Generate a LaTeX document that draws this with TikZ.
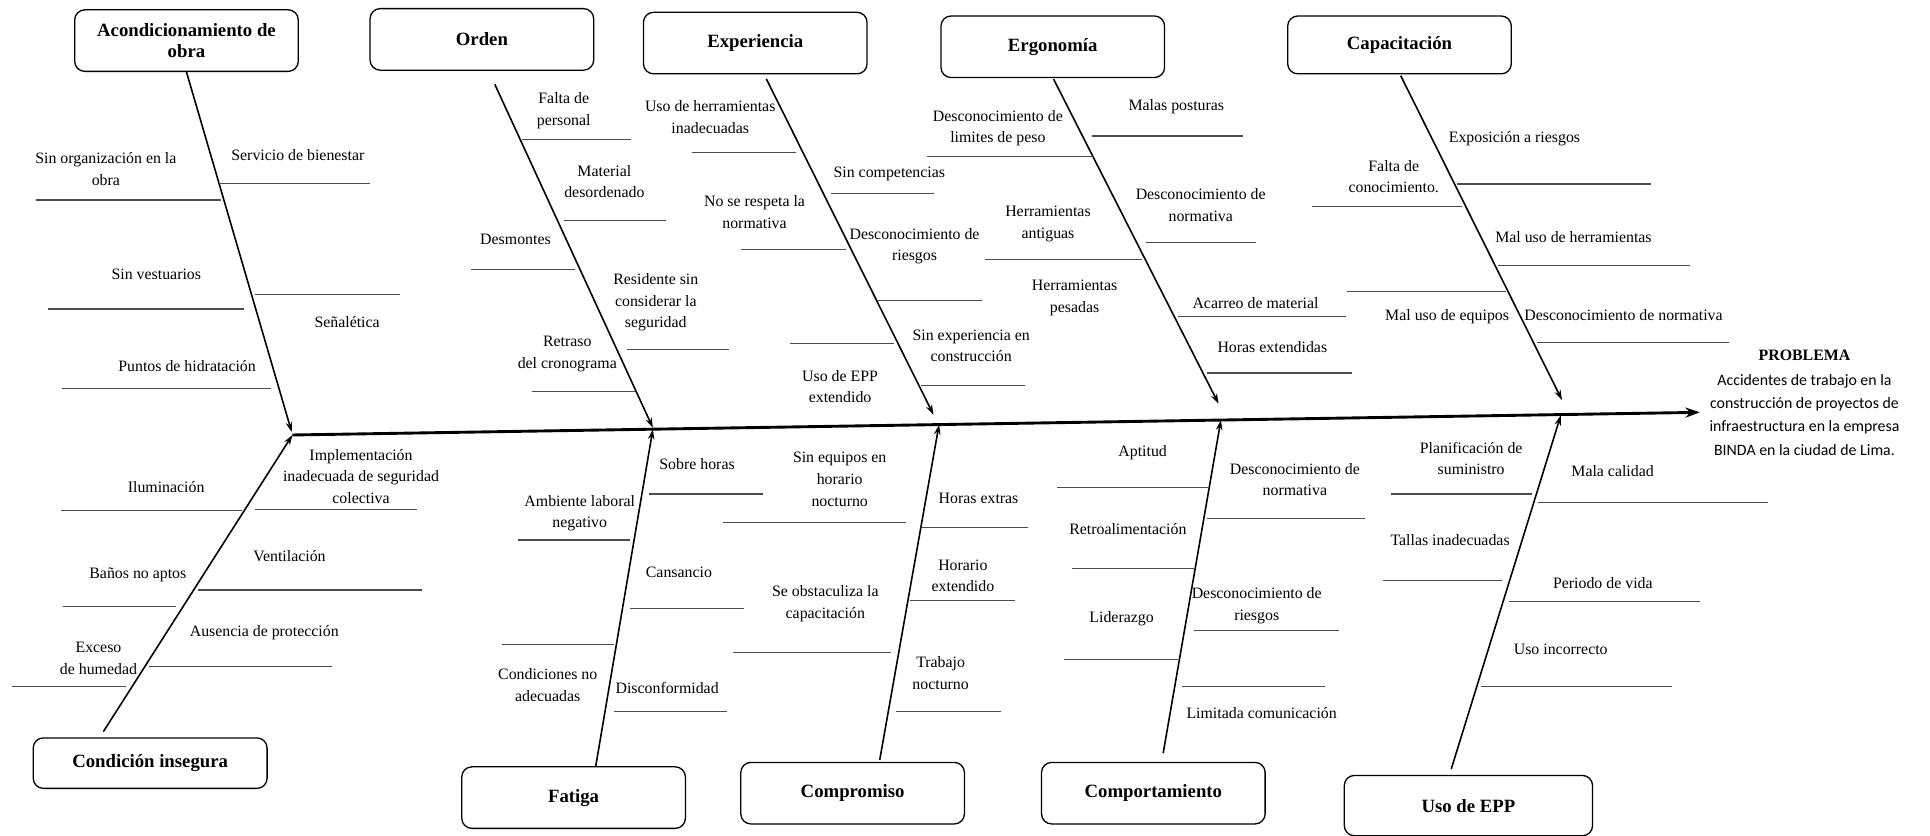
\documentclass[tikz,border=0pt]{standalone}
\usepackage{fontspec}
\setmainfont{Liberation Serif}
\newfontfamily\calibri{Carlito}
\usepackage{tikz}
\usetikzlibrary{calc,positioning,arrows.meta}

\begin{document}
\begin{tikzpicture}[x=0.03cm, y=-0.03cm,
    catbox/.style={draw, rounded corners=7pt, line width=0.9pt, minimum width=5.45cm, minimum height=1.5cm, align=center, font=\fontsize{13}{15}\selectfont\bfseries},
    lbl/.style={align=center, inner sep=1pt, font=\fontsize{11}{15}\selectfont},
    rib/.style={draw=black!70, line width=0.8pt},
    bone/.style={line width=1.1pt, -{Stealth[length=7pt, width=4.5pt]}},
    spine/.style={line width=2pt, -{Stealth[length=10pt, width=7pt]}}]
        \useasboundingbox (0,0) rectangle (1568,679);

        % category boxes
        \node [catbox] (acond) at (151.5,33) {Acondicionamiento de\\obra};
        \node [catbox] (orden) at (391.5,32) {Orden};
        \node [catbox] (exper) at (613.6,35) {Experiencia};
        \node [catbox] (ergo) at (855.3,38) {Ergonomía};
        \node [catbox, minimum height=1.41cm] (capac) at (1137,36.5) {Capacitación};
        \node [catbox, minimum width=5.7cm, minimum height=1.23cm] (insegura) at (122,620) {Condición insegura};
        \node [catbox] (fatiga) at (466,648) {Fatiga};
        \node [catbox] (compro) at (692.7,644.4) {Compromiso};
        \node [catbox] (comport) at (937,644.4) {Comportamiento};
        \node [catbox, minimum width=6.05cm, minimum height=1.47cm] (epp) at (1193,654.5) {Uso de EPP};

        % problem
        \node [font=\fontsize{11}{13}\selectfont\bfseries] (problema) at (1466,289) {PROBLEMA};
        \node [align=center, inner sep=0pt, font=\calibri\fontsize{11}{16.2}\selectfont] (accidentes) at (1466,337) {Accidentes de trabajo en la\\construcción de proyectos de\\infraestructura en la empresa\\BINDA en la ciudad de Lima.};

        % spine
        \coordinate (spL) at (237.6,353.4);
        \coordinate (spR) at (1381,335);
        \draw [spine] (spL) -- (spR);

        % bones
        \coordinate (j1) at (237,351);
        \coordinate (j2) at (530.4,347.5);
        \coordinate (j3) at (758.4,337);
        \coordinate (j4) at (990,328);
        \coordinate (j5) at (1269,325);
        \draw [bone] (acond.south) -- (j1);
        \draw [bone] ($(orden.south)+(10.5,11)$) -- (j2);
        \draw [bone] ($(exper.south)+(9,3.6)$) -- (j3);
        \draw [bone] ($(ergo.south)+(0.7,0.8)$) -- (j4);
        \draw [bone] ($(capac.south)+(1,1)$) -- (j5);

        \coordinate (k1) at (237.6,353.4);
        \coordinate (k2) at (530.4,348.8);
        \coordinate (k3) at (762.9,345);
        \coordinate (k4) at (991.9,341.3);
        \coordinate (k5) at (1268,337.5);
        \draw [bone] ($(insegura.north)+(-38,-4.6)$) -- (k1);
        \draw [bone] ($(fatiga.north)+(18,0)$) -- (k2);
        \draw [bone] ($(compro.north)+(22,-1.4)$) -- (k3);
        \draw [bone] ($(comport.north)+(8,-7)$) -- (k4);
        \draw [bone] ($(epp.north)+(-14,-4.6)$) -- (k5);

        % Acondicionamiento de obra
        \node [lbl] (a1) at (86,137.6) {Sin organización en la\\obra};
        \node [lbl] (a2) at (242,126) {Servicio de bienestar};
        \node [lbl] (a3) at (127,223) {Sin vestuarios};
        \node [lbl] (a4) at (282,262) {Señalética};
        \node [lbl] (a5) at (152,297) {Puntos de hidratación};
        \draw [rib] (29,162.5) -- (179.5,162.5);
        \draw [rib] (178,149) -- (301,149);
        \draw [rib] (39,251) -- (198,251);
        \draw [rib] (207,239) -- (325,239);
        \draw [rib] (50,315.5) -- (220,315.5);

        % Orden
        \node [lbl] (o1) at (458,90) {Falta de\\personal};
        \node [lbl] (o2) at (491,147.6) {Material\\desordenado};
        \node [lbl] (o3) at (418.8,194.4) {Desmontes};
        \node [lbl] (o4) at (532.8,245.6) {Residente sin\\considerar la\\seguridad};
        \node [lbl] (o5) at (460.9,287.6) {Retraso\\del cronograma};
        \draw [rib] (424,113) -- (513,113);
        \draw [rib] (458,179) -- (541,179);
        \draw [rib] (383,219) -- (467,219);
        \draw [rib] (509,284) -- (592,284);
        \draw [rib] (432,318) -- (516,318);

        % Experiencia
        \node [lbl] (e1) at (577,95) {Uso de herramientas\\inadecuadas};
        \node [lbl] (e2) at (722.5,141) {Sin competencias};
        \node [lbl] (e3) at (613,172.5) {No se respeta la\\normativa};
        \node [lbl] (e4) at (743,200) {Desconocimiento de\\riesgos};
        \node [lbl] (e5) at (789,281) {Sin experiencia en\\construcción};
        \node [lbl] (e6) at (682.5,314) {Uso de EPP\\extendido};
        \draw [rib] (562,124) -- (647,124);
        \draw [rib] (675,157) -- (759,157);
        \draw [rib] (602,202.5) -- (687,202.5);
        \draw [rib] (713,244) -- (798,244);
        \draw [rib] (642,279) -- (726,279);
        \draw [rib] (748,313) -- (833,313);

        % Ergonomia
        \node [lbl] (g1) at (810.7,104) {Desconocimiento de\\limites de peso};
        \node [lbl] (g2) at (955.7,87) {Malas posturas};
        \node [lbl] (g3) at (975.5,166.5) {Desconocimiento de\\normativa};
        \node [lbl] (g4) at (851.4,182) {Herramientas\\antiguas};
        \node [lbl] (g5) at (873,242) {Herramientas\\pesadas};
        \node [lbl] (g6) at (1020,246.4) {Acarreo de material};
        \node [lbl] (g7) at (1033.7,281.6) {Horas extendidas};
        \draw [rib] (753,127) -- (888,127);
        \draw [rib] (887,110.5) -- (1010,110.5);
        \draw [rib] (931,197) -- (1020.6,197);
        \draw [rib] (800.5,211) -- (927.6,211);
        \draw [rib] (956.7,257) -- (1093.7,257);
        \draw [rib] (980.6,303) -- (1098,303);

        % Capacitacion
        \node [lbl] (c1) at (1230.4,113) {Exposición a riesgos};
        \node [lbl] (c2) at (1132.3,143.5) {Falta de\\conocimiento.};
        \node [lbl] (c3) at (1278.3,193) {Mal uso de herramientas};
        \node [lbl] (c4) at (1175.7,257) {Mal uso de equipos};
        \node [lbl] (c5) at (1319,256) {Desconocimiento de normativa};
        \draw [rib] (1184,149.5) -- (1341,149.5);
        \draw [rib] (1066,168) -- (1187.7,168);
        \draw [rib] (1216.8,216) -- (1373,216);
        \draw [rib] (1094.7,237) -- (1223.6,237);
        \draw [rib] (1249,278) -- (1404.8,278);

        % Condicion insegura
        \node [lbl] (i1) at (135,396) {Iluminación};
        \node [lbl] (i2) at (293.3,387) {Implementación\\inadecuada de seguridad\\colectiva};
        \node [lbl] (i3) at (235.2,452) {Ventilación};
        \node [lbl] (i4) at (112,467) {Baños no aptos};
        \node [lbl] (i5) at (214.7,514) {Ausencia de protección};
        \node [lbl] (i6) at (80,535) {Exceso\\de humedad};
        \draw [rib] (49.6,415) -- (196.6,415);
        \draw [rib] (206.8,413.8) -- (339,413.8);
        \draw [rib] (160.7,479.3) -- (343,479.3);
        \draw [rib] (51,492.9) -- (143,492.9);
        \draw [rib] (121,541.6) -- (270,541.6);
        \draw [rib] (10,558) -- (102.6,558);

        % Fatiga
        \node [lbl] (f1) at (566.3,377.2) {Sobre horas};
        \node [lbl] (f2) at (471,417) {Ambiente laboral\\negativo};
        \node [lbl] (f3) at (551.6,465) {Cansancio};
        \node [lbl] (f4) at (445,556.5) {Condiciones no\\adecuadas};
        \node [lbl] (f5) at (542,559) {Disconformidad};
        \draw [rib] (527.6,401.3) -- (620,401.3);
        \draw [rib] (420.5,438.7) -- (512,438.7);
        \draw [rib] (512.2,494.2) -- (604.6,494.2);
        \draw [rib] (407.5,523.5) -- (499,523.5);
        \draw [rib] (499,578) -- (591,578);

        % Compromiso
        \node [lbl] (m1) at (682.2,389.4) {Sin equipos en\\horario\\nocturno};
        \node [lbl] (m2) at (795,405) {Horas extras};
        \node [lbl] (m3) at (782.3,467.7) {Horario\\extendido};
        \node [lbl] (m4) at (670.5,490.7) {Se obstaculiza la\\capacitación};
        \node [lbl] (m5) at (764.2,547) {Trabajo\\nocturno};
        \draw [rib] (587.5,424.6) -- (736.2,424.6);
        \draw [rib] (748,428.4) -- (835.3,428.4);
        \draw [rib] (739,488) -- (825,488);
        \draw [rib] (595.3,530) -- (724.2,530);
        \draw [rib] (727.6,578) -- (813.1,578);

        % Comportamiento
        \node [lbl] (p1) at (928.3,367.8) {Aptitud};
        \node [lbl] (p2) at (1052,389.5) {Desconocimiento de\\normativa};
        \node [lbl] (p3) at (916.3,429.8) {Retroalimentación};
        \node [lbl] (p4) at (1021,492) {Desconocimiento de\\riesgos};
        \node [lbl] (p5) at (911.2,502.3) {Liderazgo};
        \node [lbl] (p6) at (1025,579.5) {Limitada comunicación};
        \draw [rib] (858.6,396) -- (981.6,396);
        \draw [rib] (980.6,421) -- (1109,421);
        \draw [rib] (871,462) -- (970.4,462);
        \draw [rib] (970.4,512.4) -- (1087.5,512.4);
        \draw [rib] (864.4,536) -- (956.7,536);
        \draw [rib] (960,557.9) -- (1076.6,557.9);

        % Uso de EPP
        \node [lbl] (u1) at (1195.2,372.4) {Planificación de\\suministro};
        \node [lbl] (u2) at (1310.1,382.4) {Mala calidad};
        \node [lbl] (u3) at (1178.1,438.7) {Tallas inadecuadas};
        \node [lbl] (u4) at (1302.2,473.9) {Periodo de vida};
        \node [lbl] (u5) at (1268,527.5) {Uso incorrecto};
        \draw [rib] (1130.3,401.3) -- (1245,401.3);
        \draw [rib] (1249.9,408.4) -- (1436.6,408.4);
        \draw [rib] (1123.4,471.7) -- (1220.2,471.7);
        \draw [rib] (1226,488.8) -- (1380.9,488.8);
        \draw [rib] (1203,557.9) -- (1358.7,557.9);

    \end{tikzpicture}
\end{document}
